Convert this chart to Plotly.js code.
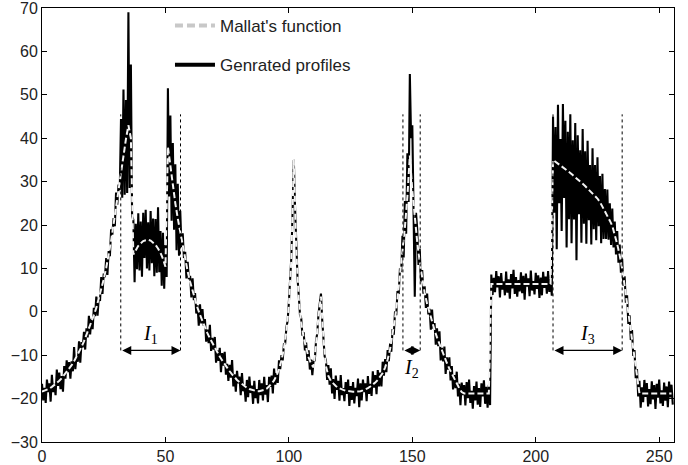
<!DOCTYPE html>
<html><head><meta charset="utf-8">
<script src="https://cdn.plot.ly/plotly-3.0.1.min.js"></script>
<style>html,body{margin:0;padding:0;background:#fff}#chart{width:688px;height:465px}</style>
</head><body><div id="chart"></div>
<script>
// Mallat's function, one value per unit of x (x = 0..255)
const mallat = [
-18.4,-18.2,-18.0,-17.7,-17.3,-16.9,-16.4,-15.9,-15.3,-14.6,-13.9,-13.1,-12.3,-11.4,-10.4,-9.3,-8.1,-6.8,-5.4,-3.9,
-2.4,-0.8,0.9,2.9,5.1,7.5,10.1,13.0,16.4,20.2,24.3,28.4,32.4,36.2,39.8,43.0,
40.0,13.2,14.3,15.2,15.8,16.3,16.5,16.6,16.4,16.0,15.4,14.6,13.6,12.2,10.4,
38.0,33.2,28.9,25.0,21.5,18.3,15.4,12.0,9.3,6.9,4.7,2.7,0.9,-0.7,-2.2,-3.6,-4.9,-6.1,-7.2,-8.3,
-9.3,-10.3,-11.2,-12.1,-12.9,-13.7,-14.4,-15.1,-15.7,-16.2,-16.7,-17.1,-17.5,-17.8,-18.0,-18.2,
-18.3,-18.3,-18.2,-18.0,-17.7,-17.2,-16.6,-15.8,-14.7,-13.2,-11.2,-8.4,-4.5,1.5,12.0,35.0,14.0,3.0,-2.5,-6.0,
-8.5,-10.5,-12.0,-12.8,-7.5,-1.0,3.5,-6.0,-12.5,-14.8,-15.9,-16.6,-17.1,-17.5,-17.8,-18.0,-18.2,-18.3,-18.4,-18.4,
-18.4,-18.4,-18.3,-18.1,-17.9,-17.6,-17.2,-16.8,-16.3,
-15.7,-15.0,-14.1,-12.8,-11.0,-8.6,-5.5,-1.5,3.0,8.0,13.5,19.5,26.5,36.0,28.0,21.5,16.0,11.5,7.6,4.4,
1.8,-0.4,-2.4,-4.2,-5.9,-7.5,-9.0,-10.4,-11.8,-13.1,-14.3,-15.5,-16.6,-17.6,-18.5,-18.8,
-18.8,-18.8,-18.8,-18.8,-18.8,-18.8,-18.8,-18.8,-18.8,-18.8,
6.4,6.4,6.4,6.4,6.4,6.4,6.4,6.4,6.4,6.4,6.4,6.4,6.4,6.4,6.4,6.4,6.4,6.4,6.4,6.4,6.4,6.4,6.4,6.4,6.4,
35.0,34.6,34.2,33.8,33.4,33.0,32.5,32.0,31.5,31.0,30.7,30.2,29.6,29.0,28.4,27.8,27.2,26.8,26.1,25.3,
24.3,23.3,22.2,21.0,19.8,17.8,15.6,13.0,10.0,6.0,1.8,-2.4,-6.6,-10.8,-15.0,-18.8,
-18.8,-18.8,-18.8,-18.8,-18.8,-18.8,-18.8,-18.8,-18.8,-18.8,-18.8,-18.8,-18.8
];
const mallatStep = 1;

// Generated (noisy) profile, two values per unit of x (x = 0..255.5)
const profile = [
-16.6,-20.4,-17.5,-21.0,-15.6,-18.5,-16.5,-20.7,-14.5,-18.5,
-16.6,-19.2,-13.3,-17.1,-14.0,-17.8,-14.8,-18.4,-12.5,-15.4,
-11.2,-13.9,-11.6,-15.4,-11.4,-13.7,-8.1,-13.2,-10.2,-11.5,
-6.8,-11.7,-7.0,-8.2,-4.6,-8.7,-3.8,-5.9,-0.9,-5.2,
-1.6,-4.0,0.9,-1.0,3.5,-0.9,3.3,2.5,8.0,4.1,
8.8,8.0,12.4,8.5,14.0,12.8,19.0,17.8,21.6,19.7,
27.5,24.7,29.3,28.0,
44.4,26.3,51.2,27.0,48.8,27.4,69.0,28.5,57.0,22.0,
21.2,6.8,20.3,9.8,22.7,9.5,20.8,8.1,22.8,12.4,
23.5,10.0,20.6,9.5,23.2,11.2,21.5,8.2,21.4,9.0,
24.1,9.1,18.6,6.0,18.2,5.3,15.4,8.0,51.5,26.6,
45.2,21.0,38.9,18.9,34.0,14.2,29.5,12.9,23.3,
14.9,18.1,12.4,13.8,7.7,11.5,7.5,8.3,3.3,7.7,
2.7,4.3,-0.4,1.5,-3.2,1.7,-2.7,0.6,-3.2,-1.7,
-6.9,-4.1,-7.2,-3.0,-9.0,-6.0,-8.7,-5.8,-11.7,-8.9,
-11.3,-8.3,-13.9,-9.5,-12.4,-9.2,-14.5,-12.0,-15.9,-12.2,
-15.2,-11.1,-17.2,-14.4,-18.4,-13.6,-16.5,-14.9,-19.2,-14.1,
-18.3,-16.9,-20.7,-15.7,-19.7,-14.9,-18.7,-17.0,-21.2,-15.9,
-19.9,-17.8,-21.1,-15.7,-19.2,-16.5,-20.4,-15.0,-19.1,-16.9,
-20.8,-15.0,-17.3,-14.7,-18.8,-13.1,-16.8,-14.1,-16.4,-11.2,
-13.2,-10.0,-11.2,-7.4,-7.3,-3.6,-2.1,2.2,6.3,12.5,
23.0,35.0,24.0,14.6,7.8,3.8,-0.7,-1.5,-5.5,-4.7,
-8.9,-7.1,-11.3,-8.9,-13.3,-11.0,-14.6,-11.3,-11.2,-6.7,
-4.9,-0.5,1.6,4.2,-1.8,-5.4,-10.3,-11.1,-15.7,-12.3,
-16.8,-13.0,-18.8,-15.5,-20.1,-14.7,-18.0,-15.9,-20.5,-14.6,
-19.2,-17.6,-20.6,-16.2,-18.9,-15.6,-21.7,-17.1,-20.3,-16.2,
-21.1,-17.5,-19.4,-15.4,-22.0,-16.5,-20.4,-15.6,-18.5,-16.5,
-20.6,-14.8,-18.9,-16.6,-19.4,-13.7,-17.5,-14.6,-19.0,-13.4,
-17.2,-14.0,-17.2,-11.5,-14.7,-10.9,-13.9,-8.8,-11.4,-7.3,
-9.2,-4.0,-5.3,0.1,-0.8,4.8,4.1,10.0,9.2,
17.5,12.5,25.5,18.0,36.5,25.3,54.8,40.0,43.0,20.8,3.5,22.8,19.0,10.8,14.5,7.0,
9.6,4.2,5.9,0.9,4.2,-0.6,0.7,-4.1,0.5,-3.9,
-2.6,-7.6,-3.8,-7.9,-4.5,-11.2,-8.3,-11.4,-8.0,-14.3,
-10.5,-13.3,-10.5,-15.8,-12.5,-17.9,-14.6,-17.6,-13.8,-19.5,
-16.6,-21.5,-16.3,-19.2,-16.9,-21.6,-16.2,-19.9,-15.6,-21.0,
-18.2,-22.3,-17.1,-20.4,-16.1,-21.4,-17.6,-21.9,-16.5,-19.5,
-15.8,-21.2,-17.3,-22.1,-16.8,-21.5,
8.6,3.9,7.8,4.5,9.4,5.6,8.2,3.3,8.9,5.1,
7.0,3.8,9.3,4.4,7.5,3.0,8.7,5.4,9.7,4.1,
8.0,3.5,7.3,4.7,9.1,4.3,8.3,2.8,8.8,5.8,
7.7,3.6,9.5,4.9,7.1,4.0,9.0,5.3,8.4,3.2,
7.9,3.8,9.2,5.5,8.1,4.2,9.4,4.6,7.6,3.7,
45.0,22.8,42.6,14.4,47.7,25.0,39.8,18.6,47.9,26.2,
44.0,14.8,41.5,21.3,45.5,15.8,39.5,21.3,43.5,11.9,
40.7,22.5,37.2,15.9,42.1,20.3,37.0,15.7,39.4,21.1,
33.8,15.5,37.7,19.0,33.8,16.5,35.6,19.7,31.3,15.8,
31.8,16.8,28.3,16.8,28.2,16.6,25.0,15.4,23.8,14.8,
20.8,13.2,18.6,11.3,15.5,9.0,12.2,
6.0,8.2,2.1,3.8,-2.8,-0.8,-6.5,-4.2,-10.2,-8.8,
-15.3,-13.2,-19.5,-15.9,-22.1,-17.4,-20.8,-15.7,-19.6,-16.4,
-21.8,-17.8,-21.3,-16.0,-20.2,-16.9,-22.4,-16.6,-19.8,-15.6,
-21.1,-18.1,-21.7,-16.3,-20.5,-17.2,-22.0,-16.1,-19.7,-16.8,
-21.4
];
const profileStep = 0.5;

// Interval markers I1, I2, I3
const intervalStart = [31.9, 146.2, 207.0];
const intervalEnd   = [56.1, 153.2, 235.0];
const intervalNames = ['1', '2', '3'];
const labelX = [44.0, 149.7, 221.0];
const labelY = [-5.2, -13.0, -5.2];
const markerTop = 45.5;
const markerBottom = -8.9;

const xTicks = [0, 50, 100, 150, 200, 250];
const yTicks = [-30, -20, -10, 0, 10, 20, 30, 40, 50, 60, 70];
const seriesNames = ["Mallat's function", "Genrated profiles"];

const xsProfile = profile.map((_, i) => i * profileStep);
const xsMallat = mallat.map((_, i) => i * mallatStep);

const traces = [
  {x: xsProfile, y: profile, type: 'scatter', mode: 'lines',
   line: {color: '#000', width: 2.1}, showlegend: false, hoverinfo: 'skip'},
  {x: xsMallat, y: mallat, type: 'scatter', mode: 'lines',
   line: {color: '#f2f2f2', width: 2, dash: '6px,3px'}, showlegend: false, hoverinfo: 'skip'},
  {x: [null], y: [null], type: 'scatter', mode: 'lines', name: seriesNames[0], legendgroup: 'a',
   line: {color: '#c8c8c8', width: 4, dash: '8px,4px'}},
  {x: [null], y: [null], type: 'scatter', mode: 'lines', name: seriesNames[1], legendgroup: 'b',
   line: {color: '#000', width: 4}}
];

const shapes = [];
const annotations = [];
for (let i = 0; i < intervalStart.length; i++) {
  [intervalStart[i], intervalEnd[i]].forEach(xv => {
    shapes.push({type: 'line', xref: 'x', yref: 'y', x0: xv, x1: xv, y0: markerBottom, y1: markerTop,
      line: {color: '#000', width: 1, dash: 'dot'}});
  });
  annotations.push({xref: 'x', yref: 'y', axref: 'x', ayref: 'y',
    x: intervalEnd[i], y: markerBottom, ax: intervalStart[i], ay: markerBottom,
    text: '', showarrow: true, arrowside: 'end+start', arrowhead: 2, startarrowhead: 2,
    arrowsize: 1.5, startarrowsize: 1.5, arrowwidth: 1.2, arrowcolor: '#000', standoff: 0, startstandoff: 0});
  annotations.push({xref: 'x', yref: 'y', x: labelX[i], y: labelY[i],
    text: '<i>I</i><sub>' + intervalNames[i] + '</sub>', showarrow: false,
    font: {family: 'Liberation Serif, DejaVu Serif, serif', size: 20, color: '#000'}});
}

const axisFont = {family: 'Liberation Sans, Arial, sans-serif', size: 16, color: '#222'};
const layout = {
  width: 688, height: 465,
  margin: {l: 42, r: 14, t: 8, b: 23, pad: 0},
  paper_bgcolor: '#fff', plot_bgcolor: '#fff',
  xaxis: {range: [0, 256], tickmode: 'array', tickvals: xTicks, ticks: 'inside', ticklen: 5,
    tickcolor: '#000', showline: true, linecolor: '#000', linewidth: 1, mirror: 'ticks',
    showgrid: false, zeroline: false, tickfont: axisFont, ticklabeloverflow: 'allow'},
  yaxis: {range: [-30, 70], tickmode: 'array', tickvals: yTicks, ticks: 'inside', ticklen: 5,
    tickcolor: '#000', showline: true, linecolor: '#000', linewidth: 1, mirror: 'ticks',
    showgrid: false, zeroline: false, tickfont: axisFont, ticklabeloverflow: 'allow'},
  legend: {x: 0.2025, xanchor: 'left', y: 1, yanchor: 'top', bgcolor: 'rgba(0,0,0,0)',
    font: {family: 'Liberation Sans, Arial, sans-serif', size: 17, color: '#222'},
    tracegroupgap: 14, traceorder: 'grouped', itemwidth: 40},
  shapes: shapes,
  annotations: annotations,
  showlegend: true
};

Plotly.newPlot('chart', traces, layout, {staticPlot: true, displayModeBar: false});
</script>
</body></html>
